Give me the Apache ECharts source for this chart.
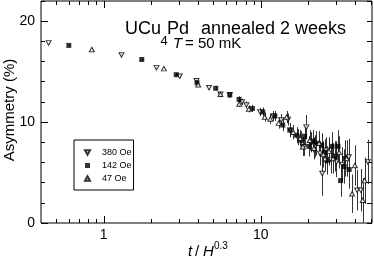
<!DOCTYPE html>
<html><head><meta charset="utf-8">
<script src="https://cdn.jsdelivr.net/npm/echarts@6/dist/echarts.min.js"></script>
<style>html,body{margin:0;padding:0;background:#fff}#c{width:374px;height:259px}</style>
</head><body><div id="c"></div>
<script>
// ---- data ----
const seriesNames = ['380 Oe', '142 Oe', '47 Oe'];

const x380 = [0.447, 1.30, 2.17, 3.05, 3.90, 4.69, 5.54, 6.35, 7.6, 8.1, 9.9, 12.0, 13.5, 14.9, 15.4, 17.2, 18.7, 19.5, 21.0, 22.2, 23.8, 24.6, 26.0, 27.8, 29.5, 30.3, 33.0, 36.3, 41.0, 43.3, 48.0];
const y380 = [17.85, 16.65, 15.4, 14.55, 14.1, 13.4, 12.75, 12.7, 12.0, 11.7, 11.0, 10.6, 10.2, 10.25, 9.2, 8.5, 7.55, 9.5, 8.0, 7.6, 6.9, 4.9, 7.2, 6.3, 6.6, 6.05, 5.8, 6.55, 3.25, 3.25, 6.05];
const e380 = [0.1, 0.1, 0.15, 0.15, 0.2, 0.2, 0.25, 0.25, 0.3, 0.35, 0.4, 0.5, 0.6, 0.6, 0.7, 0.8, 0.9, 1.2, 1.0, 1.1, 1.2, 2.2, 1.3, 1.4, 1.5, 1.5, 1.7, 1.8, 2.0, 2.1, 2.2];

const x142 = [0.601, 1.75, 2.90, 3.93, 5.17, 6.35, 7.28, 8.85, 10.3, 12.3, 13.8, 15.3, 16.9, 18.1, 19.0, 20.2, 21.5, 22.6, 24.4, 25.5, 26.4, 28.4, 30.0, 31.0, 32.2, 33.9, 34.2, 36.5];
const y142 = [17.6, 16.2, 14.7, 13.9, 13.35, 12.7, 12.25, 11.35, 11.0, 10.6, 9.7, 9.2, 8.7, 8.2, 8.6, 7.6, 8.1, 7.9, 7.7, 7.0, 6.2, 7.6, 6.6, 7.6, 4.2, 5.6, 6.4, 5.3];
const e142 = [0.1, 0.1, 0.15, 0.2, 0.2, 0.25, 0.3, 0.35, 0.45, 0.5, 0.6, 0.7, 0.8, 0.9, 1.0, 1.0, 1.1, 1.2, 1.2, 1.3, 1.4, 1.4, 1.5, 1.6, 1.6, 1.7, 1.8, 1.9];

const x47 = [0.842, 2.42, 4.0, 5.54, 7.3, 8.4, 10.6, 11.5, 13.0, 14.6, 16.1, 17.8, 18.5, 20.5, 21.8, 23.5, 25.0, 25.6, 27.2, 28.8, 31.5, 35.2, 38.1, 39.7, 44.5, 45.7];
const y47 = [17.2, 15.3, 13.7, 12.75, 11.8, 11.3, 10.5, 10.3, 9.9, 10.5, 9.0, 8.4, 7.55, 8.2, 7.4, 7.9, 6.8, 6.4, 7.1, 6.4, 7.0, 6.4, 2.9, 5.7, 2.25, 4.2];
const e47 = [0.1, 0.15, 0.2, 0.25, 0.3, 0.35, 0.45, 0.5, 0.55, 0.6, 0.7, 0.8, 0.9, 1.0, 1.1, 1.2, 1.3, 1.3, 1.4, 1.5, 1.6, 1.8, 1.9, 2.0, 2.2, 2.3];

const xTickValues = [0.5, 0.6, 0.7, 0.8, 0.9, 1, 2, 3, 4, 5, 6, 7, 8, 9, 10, 20, 30, 40, 50];
const xMajorTicks = [1, 10];
const yMin = 0, yMax = 22;

// ---- chart ----
const FF = '"Liberation Sans", Arial, Helvetica, sans-serif';
const downTri = 'path://M0,0L10,0L5,8.66Z';
const upTri = 'path://M5,0L10,8.66L0,8.66Z';

function pairs(xs, ys) { return xs.map((x, i) => [x, ys[i]]); }
function errRows(xs, ys, es) { return xs.map((x, i) => [x, ys[i] - es[i], ys[i] + es[i]]); }

const chart = echarts.init(document.getElementById('c'), null, {renderer: 'canvas'});

const openStyle = {color: '#fff', borderColor: '#000', borderWidth: 1};

const option = {
  animation: false,
  backgroundColor: '#fff',
  grid: {left: 41, right: 2, top: 1, bottom: 36, show: true, borderColor: '#000', borderWidth: 1, backgroundColor: 'transparent'},
  xAxis: {
    type: 'log', logBase: 10, min: 0.4, max: 51,
    axisLine: {show: false}, axisTick: {show: false}, splitLine: {show: false},
    axisLabel: {fontSize: 14, color: '#000', fontFamily: FF, margin: 5, showMinLabel: false, showMaxLabel: false}
  },
  yAxis: [
    {type: 'value', min: yMin, max: yMax, interval: 10, position: 'left',
     axisLine: {show: false}, splitLine: {show: false},
     axisTick: {inside: true, length: 7, lineStyle: {color: '#000'}},
     axisLabel: {fontSize: 14, color: '#000', fontFamily: FF, margin: 6, showMaxLabel: false}},
    {type: 'value', min: yMin, max: yMax, interval: 2, position: 'left',
     axisLine: {show: false}, splitLine: {show: false},
     axisTick: {inside: true, length: 4, lineStyle: {color: '#000'}},
     axisLabel: {show: false}},
    {type: 'value', min: yMin, max: yMax, interval: 2, position: 'right',
     axisLine: {show: false}, splitLine: {show: false},
     axisTick: {inside: true, length: 5, lineStyle: {color: '#000'}},
     axisLabel: {show: false}}
  ],
  legend: {
    orient: 'vertical', left: 74, top: 140, padding: [8, 2, 7, 10], itemGap: 4,
    itemWidth: 5, itemHeight: 5, borderColor: '#000', borderWidth: 1, selectedMode: false,
    textStyle: {fontSize: 9, color: '#000', fontFamily: FF, lineHeight: 9, padding: [0, 0, 0, 7]},
    data: [{name: seriesNames[0], icon: downTri}, {name: seriesNames[1], icon: 'rect'}, {name: seriesNames[2], icon: upTri}]
  },
  graphic: [
    {type: 'text', x: 125, y: 29, style: {text: 'UCu', font: '18px ' + FF, fill: '#000', align: 'left', verticalAlign: 'middle'}},
    {type: 'text', x: 160.5, y: 41.8, style: {text: '4', font: '13px ' + FF, fill: '#000', align: 'left', verticalAlign: 'middle'}},
    {type: 'text', x: 167, y: 29, style: {text: 'Pd', font: '18px ' + FF, fill: '#000', align: 'left', verticalAlign: 'middle'}},
    {type: 'text', x: 201, y: 29, style: {text: 'annealed 2 weeks', font: '18px ' + FF, fill: '#000', align: 'left', verticalAlign: 'middle'}},
    {type: 'text', x: 173, y: 43.5, style: {text: 'T', font: 'italic 15px ' + FF, fill: '#000', align: 'left', verticalAlign: 'middle'}},
    {type: 'text', x: 185, y: 43.5, style: {text: '= 50 mK', font: '15px ' + FF, fill: '#000', align: 'left', verticalAlign: 'middle'}},
    {type: 'text', x: 10, y: 110, rotation: Math.PI / 2, style: {text: 'Asymmetry (%)', font: '15px ' + FF, fill: '#000', align: 'center', verticalAlign: 'middle'}},
    {type: 'text', x: 188, y: 251.8, style: {text: 't', font: 'italic 15px ' + FF, fill: '#000', align: 'left', verticalAlign: 'middle'}},
    {type: 'text', x: 195, y: 251.8, style: {text: '/', font: '15px ' + FF, fill: '#000', align: 'left', verticalAlign: 'middle'}},
    {type: 'text', x: 203, y: 251.8, style: {text: 'H', font: 'italic 15px ' + FF, fill: '#000', align: 'left', verticalAlign: 'middle'}},
    {type: 'text', x: 214, y: 246.5, style: {text: '0.3', font: '10px ' + FF, fill: '#000', align: 'left', verticalAlign: 'middle'}}
  ],
  series: [
    {
      type: 'custom', name: 'errorbars', silent: true, z: 1, clip: true,
      xAxisIndex: 0, yAxisIndex: 0,
      data: errRows(x380, y380, e380).concat(errRows(x142, y142, e142), errRows(x47, y47, e47)),
      encode: {x: 0, y: [1, 2]},
      renderItem: function (params, api) {
        const a = api.coord([api.value(0), api.value(1)]);
        const b = api.coord([api.value(0), api.value(2)]);
        const px = Math.round(a[0]) + 0.5;
        return {type: 'line', shape: {x1: px, y1: a[1], x2: px, y2: b[1]}, style: {stroke: '#333', lineWidth: 1}};
      }
    },
    {
      type: 'custom', name: 'xticks', silent: true, z: 5, clip: false,
      xAxisIndex: 0, yAxisIndex: 0,
      data: xTickValues.map(v => [v, yMin, xMajorTicks.indexOf(v) >= 0 ? 1 : 0]),
      encode: {x: 0, y: 1},
      renderItem: function (params, api) {
        const v = api.value(0);
        const len = api.value(2) ? 7 : 4;
        const b = api.coord([v, yMin]);
        const t = api.coord([v, yMax]);
        const px = Math.round(b[0]) + 0.5;
        return {type: 'group', children: [
          {type: 'line', shape: {x1: px, y1: b[1], x2: px, y2: b[1] - len}, style: {stroke: '#000', lineWidth: 1}},
          {type: 'line', shape: {x1: px, y1: t[1], x2: px, y2: t[1] + len}, style: {stroke: '#000', lineWidth: 1}}
        ]};
      }
    },
    {name: seriesNames[0], type: 'scatter', z: 3, data: pairs(x380, y380), symbol: downTri, symbolSize: [5, 4.5], itemStyle: openStyle},
    {name: seriesNames[1], type: 'scatter', z: 3, data: pairs(x142, y142), symbol: 'rect', symbolSize: 5, itemStyle: {color: '#000'}},
    {name: seriesNames[2], type: 'scatter', z: 3, data: pairs(x47, y47), symbol: upTri, symbolSize: [5, 4.5], itemStyle: openStyle}
  ]
};
chart.setOption(option);
</script>
</body></html>
